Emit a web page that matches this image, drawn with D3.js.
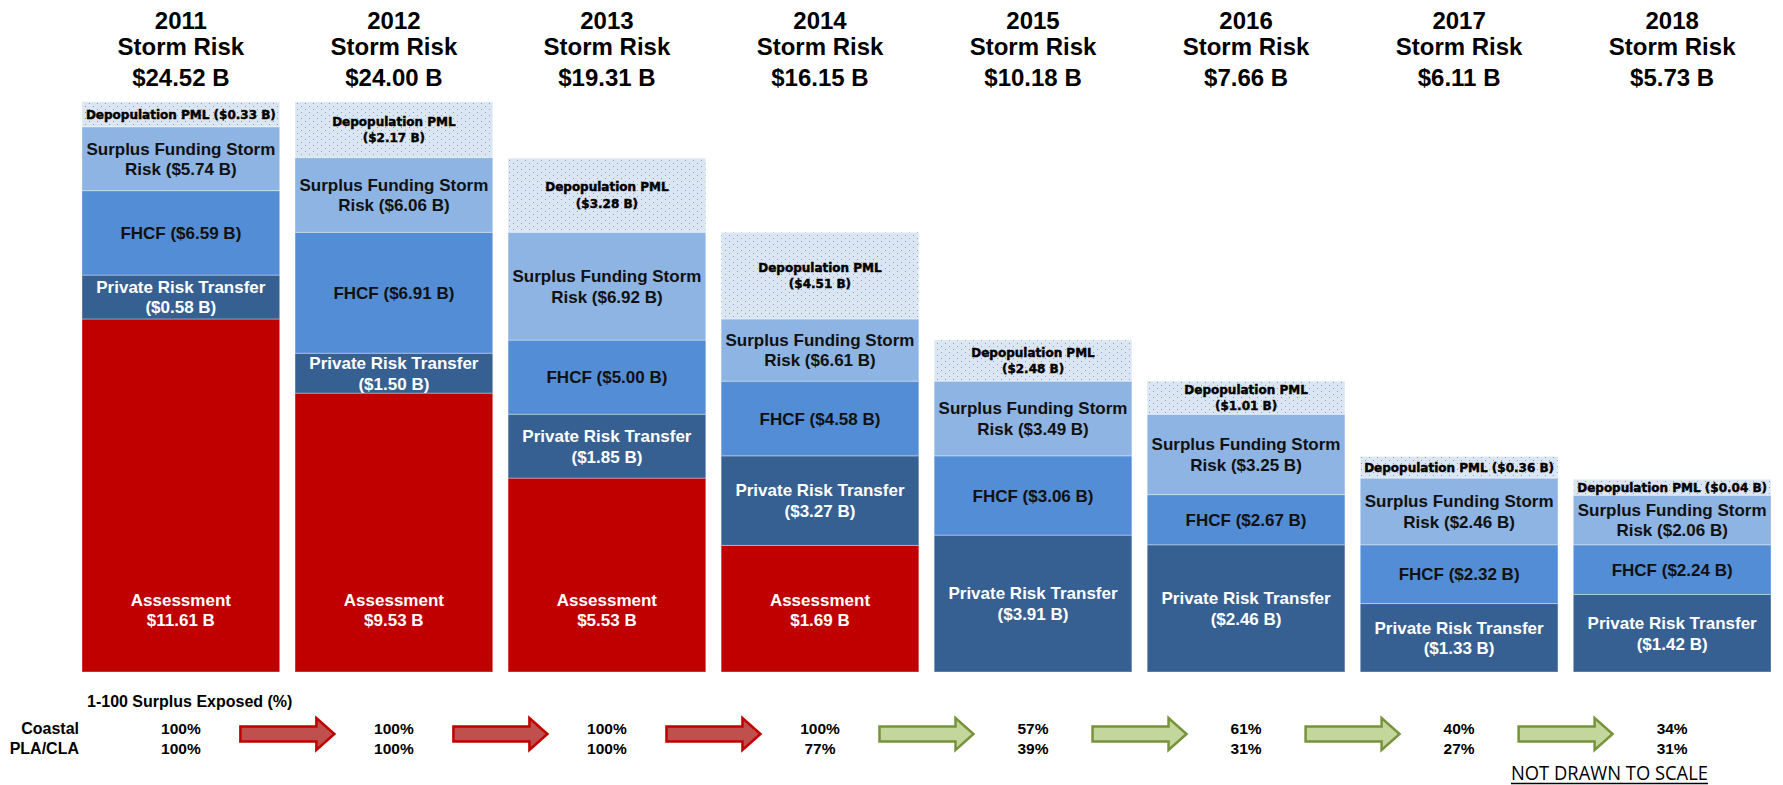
<!DOCTYPE html>
<html>
<head>
<meta charset="utf-8">
<script src="https://cdn.jsdelivr.net/npm/d3@7"></script>
<style>
  body { margin: 0; background: #fff; }
  svg { display: block; font-family: "Liberation Sans", Arial, sans-serif; }
</style>
</head>
<body>
<svg id="chart" width="1783" height="785"></svg>
<script>
var years = ["2011", "2012", "2013", "2014", "2015", "2016", "2017", "2018"];
var totals = [24.52, 24.00, 19.31, 16.15, 10.18, 7.66, 6.11, 5.73];

// values shown in the labels ($ B)
var depopulation = [0.33, 2.17, 3.28, 4.51, 2.48, 1.01, 0.36, 0.04];
var surplusFunding = [5.74, 6.06, 6.92, 6.61, 3.49, 3.25, 2.46, 2.06];
var fhcf = [6.59, 6.91, 5.00, 4.58, 3.06, 2.67, 2.32, 2.24];
var privateRisk = [0.58, 1.50, 1.85, 3.27, 3.91, 2.46, 1.33, 1.42];
var assessment = [11.61, 9.53, 5.53, 1.69, 0, 0, 0, 0];

// the chart is NOT drawn to scale: block heights,
// in % of the tallest bar
var drawnDepop = [4.4, 9.8, 13.0, 15.2, 7.2, 5.8, 3.8, 2.8];
var drawnSurplus = [11.2, 13.1, 18.9, 10.9, 13.1, 14.1, 11.7, 8.7];
var drawnFhcf = [14.8, 21.2, 13.0, 13.1, 13.9, 8.8, 10.3, 8.7];
var drawnPrivate = [7.7, 7.0, 11.2, 15.7, 24.0, 22.3, 12.0, 13.6];
var drawnAssessment = [61.9, 48.9, 34.0, 22.2, 0, 0, 0, 0];

// 1-100 surplus exposed (%)
var coastal = [100, 100, 100, 100, 57, 61, 40, 34];
var plaCla = [100, 100, 100, 77, 39, 31, 27, 31];

var svg = d3.select("#chart");
var defs = svg.append("defs");
var pat = defs.append("pattern").attr("id", "dots")
  .attr("patternUnits", "userSpaceOnUse").attr("width", 8).attr("height", 6);
pat.append("rect").attr("width", 8).attr("height", 6).attr("fill", "#dce6f2");
pat.append("rect").attr("x", 1).attr("y", 1).attr("width", 1).attr("height", 1).attr("fill", "#7aa3d8");
pat.append("rect").attr("x", 5).attr("y", 4).attr("width", 1).attr("height", 1).attr("fill", "#7aa3d8");

var fmt = function(v) { return "$" + v.toFixed(2) + " B"; };

var layers = [
  { key: "assessment", values: assessment, drawn: drawnAssessment, fill: "#c00000", text: "#ffffff",
    lines: function(v) { return ["Assessment", fmt(v)]; } },
  { key: "privateRisk", values: privateRisk, drawn: drawnPrivate, fill: "#376092", text: "#ffffff",
    lines: function(v) { return ["Private Risk Transfer", "(" + fmt(v) + ")"]; } },
  { key: "fhcf", values: fhcf, drawn: drawnFhcf, fill: "#538dd5", text: "#111111",
    lines: function(v) { return ["FHCF (" + fmt(v) + ")"]; } },
  { key: "surplus", values: surplusFunding, drawn: drawnSurplus, fill: "#8db4e2", text: "#111111",
    lines: function(v) { return ["Surplus Funding Storm", "Risk (" + fmt(v) + ")"]; } },
  { key: "depop", values: depopulation, drawn: drawnDepop, fill: "url(#dots)", text: "#000000",
    lines: function(v, h) {
      var s = "(" + fmt(v) + ")";
      return h < 30 ? ["Depopulation PML " + s] : ["Depopulation PML", s];
    } }
];

var table = years.map(function(y, i) {
  var row = { year: y };
  layers.forEach(function(l) { row[l.key] = l.drawn[i]; });
  return row;
});
var stack = d3.stack().keys(layers.map(function(l) { return l.key; }));
var series = stack(table);

var x = d3.scaleBand().domain(years).range([82, 1771]).paddingInner(0.072).paddingOuter(0);
var y = d3.scaleLinear().domain([0, 100]).range([672, 101.7]);

// stacked blocks
var g = svg.append("g");
series.forEach(function(s, li) {
  var l = layers[li];
  g.append("g").selectAll("rect")
    .data(s.filter(function(d) { return d[1] - d[0] > 0; }))
    .enter().append("rect")
    .attr("x", function(d) { return x(d.data.year); })
    .attr("y", function(d) { return y(d[1]); })
    .attr("width", x.bandwidth())
    .attr("height", function(d) { return y(d[0]) - y(d[1]); })
    .attr("fill", l.fill)
    .attr("stroke", "#ffffff").attr("stroke-opacity", 0.35).attr("stroke-width", 1);
});

// block labels
series.forEach(function(s, li) {
  var l = layers[li];
  s.forEach(function(d, i) {
    var v = l.values[i];
    if (!(d[1] - d[0] > 0)) return;
    var top = y(d[1]), bot = y(d[0]);
    var h = bot - top;
    var isDepop = l.key === "depop";
    var fs = isDepop ? 12 : 17;
    var lh = isDepop ? 16.5 : 20.5;
    var lines = l.lines(v, h);
    var mid = l.key === "assessment" ? y(0) - 62 : (top + bot) / 2;
    var cx = x(d.data.year) + x.bandwidth() / 2;
    var t = svg.append("text")
      .attr("text-anchor", "middle")
      .attr("fill", l.text)
      .style("font-size", fs + "px")
      .style("font-weight", "bold");
    if (isDepop) {
      t.style("font-family", "'DejaVu Sans', sans-serif")
        .attr("stroke", "#000").attr("stroke-width", 0.45);
    }
    lines.forEach(function(txt, k) {
      var base = mid + (k - (lines.length - 1) / 2) * lh + fs * 0.36;
      t.append("tspan").attr("x", cx).attr("y", base).text(txt);
    });
  });
});

// titles
var titles = svg.append("g").selectAll("text").data(years).enter().append("text")
  .attr("text-anchor", "middle")
  .style("font-size", "24px").style("font-weight", "bold").attr("fill", "#000");
titles.append("tspan").attr("x", function(d) { return x(d) + x.bandwidth() / 2; }).attr("y", 28.5)
  .text(function(d) { return d; });
titles.append("tspan").attr("x", function(d) { return x(d) + x.bandwidth() / 2; }).attr("y", 55)
  .text("Storm Risk");
titles.append("tspan").attr("x", function(d) { return x(d) + x.bandwidth() / 2; }).attr("y", 86)
  .text(function(d, i) { return fmt(totals[i]); });

// surplus exposed table
svg.append("text").attr("x", 87).attr("y", 707)
  .style("font-size", "16px").style("font-weight", "bold")
  .text("1-100 Surplus Exposed (%)");
svg.append("text").attr("x", 79).attr("y", 733.5).attr("text-anchor", "end")
  .style("font-size", "16px").style("font-weight", "bold").text("Coastal");
svg.append("text").attr("x", 79).attr("y", 754).attr("text-anchor", "end")
  .style("font-size", "16px").style("font-weight", "bold").text("PLA/CLA");

[coastal, plaCla].forEach(function(arr, r) {
  svg.append("g").selectAll("text").data(arr).enter().append("text")
    .attr("x", function(d, i) { return x(years[i]) + x.bandwidth() / 2; })
    .attr("y", r === 0 ? 734 : 754)
    .attr("text-anchor", "middle")
    .style("font-size", "15.5px").style("font-weight", "bold")
    .text(function(d) { return d + "%"; });
});

// arrows between years: red while the next year still needs assessments
var arrowPath = "M-47,-7.6L29,-7.6L29,-16L47,0L29,16L29,7.6L-47,7.6Z";
svg.append("g").selectAll("path").data(years.slice(1)).enter().append("path")
  .attr("d", arrowPath)
  .attr("transform", function(d, i) {
    var cx = (x(years[i]) + x(d)) / 2 + x.bandwidth() / 2;
    return "translate(" + cx + ",734)";
  })
  .attr("fill", function(d, i) { return assessment[i + 1] > 0 ? "#c0504d" : "#c3d69b"; })
  .attr("stroke", function(d, i) { return assessment[i + 1] > 0 ? "#c00000" : "#77933c"; })
  .attr("stroke-width", 2.5);

// note
var note = svg.append("text").attr("x", 1511).attr("y", 780)
  .attr("textLength", 197).attr("lengthAdjust", "spacingAndGlyphs")
  .style("font-family", "'Open Sans', sans-serif").style("font-size", "20px")
  .attr("fill", "#000")
  .text("NOT DRAWN TO SCALE");
var bb = note.node().getBBox();
svg.append("line").attr("x1", bb.x).attr("x2", bb.x + bb.width)
  .attr("y1", 783.5).attr("y2", 783.5).attr("stroke", "#000").attr("stroke-width", 1.3);
</script>
</body>
</html>
